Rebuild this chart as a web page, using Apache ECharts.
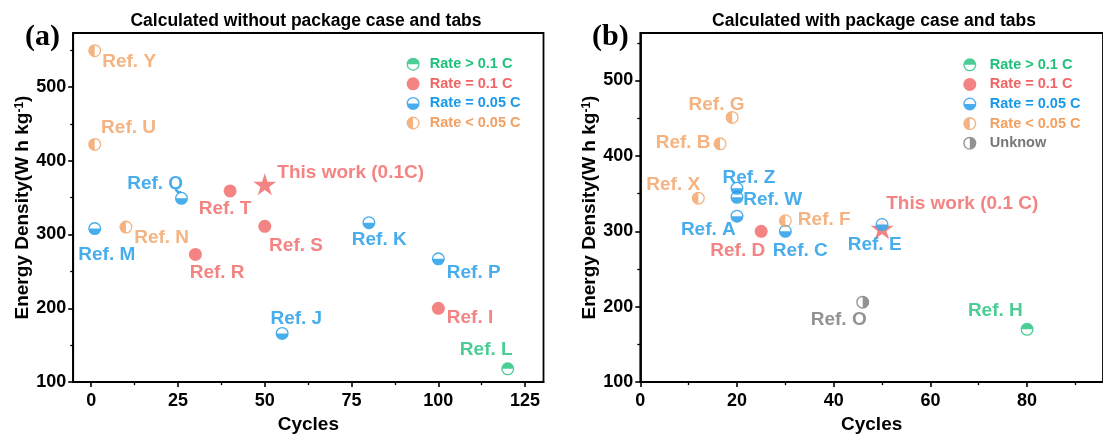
<!DOCTYPE html>
<html><head><meta charset="utf-8">
<script src="https://cdn.jsdelivr.net/npm/echarts@6/dist/echarts.min.js"></script>
<style>html,body{margin:0;padding:0;background:#fff}#c{width:1103px;height:439px}</style>
</head><body><div id="c"></div>
<script>
// ---------------- DATA ----------------
const rateNames = {gt: 'Rate > 0.1 C', eq: 'Rate = 0.1 C', half: 'Rate = 0.05 C', lt: 'Rate < 0.05 C', unk: 'Unknow'};

// Panel (a): calculated without package case and tabs
const aNames   = ['Ref. Y','Ref. U','Ref. Q','Ref. T','Ref. M','Ref. N','Ref. R','Ref. S','Ref. K','Ref. P','Ref. I','Ref. J','Ref. L'];
const aCycles  = [1, 1, 26, 40, 1, 10, 30, 50, 80, 100, 100, 55, 120];
const aDensity = [549, 422, 349, 359, 308, 310, 273, 311, 316, 267, 200, 166, 118];
const aRate    = ['lt','lt','half','eq','half','lt','eq','eq','half','half','eq','half','gt'];
const aThisWork = [50, 368];
const aThisWorkLabel = 'This work (0.1C)';

// Panel (b): calculated with package case and tabs
const bNames   = ['Ref. G','Ref. B','Ref. X','Ref. Z','Ref. W','Ref. A','Ref. D','Ref. F','Ref. C','Ref. E','Ref. O','Ref. H'];
const bCycles  = [19, 16.5, 12, 20, 20, 20, 25, 30, 30, 50, 46, 80];
const bDensity = [451, 416, 344, 357, 345, 320, 300, 314, 300, 309, 206, 170];
const bRate    = ['lt','lt','lt','half','half','half','eq','lt','half','half','unk','gt'];
const bThisWork = [50, 304];
const bThisWorkLabel = 'This work (0.1 C)';

// Axis ticks
const yMajorTicks  = [100, 200, 300, 400, 500];
const yMinorTicks  = [150, 250, 350, 450, 550];
const aXMajorTicks = [0, 25, 50, 75, 100, 125];
const aXMinorTicks = [12.5, 37.5, 62.5, 87.5, 112.5];
const bXMajorTicks = [0, 20, 40, 60, 80];
const bXMinorTicks = [10, 30, 50, 70, 90];

const titles = ['Calculated without package case and tabs', 'Calculated with package case and tabs'];
const panelTags = ['(a)', '(b)'];

// ---------------- STYLE ----------------
const FONT = '"Liberation Sans", Arial, sans-serif';
const COLORS = {gt: '#1fc07a', eq: '#f16464', half: '#1a98e8', lt: '#f1a062', unk: '#777777'};
const SYM = {
  gt:   'path://M0,10 A10,10 0 0 1 20,10 Z M0,10 A10,10 0 0 0 20,10 L18,10 A8,8 0 0 1 2,10 Z',
  half: 'path://M0,10 A10,10 0 0 0 20,10 Z M0,10 A10,10 0 0 1 20,10 L18,10 A8,8 0 0 0 2,10 Z',
  lt:   'path://M10,0 A10,10 0 0 0 10,20 Z M10,0 A10,10 0 0 1 10,20 L10,18 A8,8 0 0 0 10,2 Z',
  unk:  'path://M10,0 A10,10 0 0 1 10,20 Z M10,0 A10,10 0 0 0 10,20 L10,18 A8,8 0 0 1 10,2 Z',
  eq:   'circle'
};
const STAR = 'path://M10,0 L12.245,6.910 L19.511,6.910 L13.633,11.180 L15.878,18.090 L10,13.820 L4.122,18.090 L6.367,11.180 L0.489,6.910 L7.755,6.910 Z';

// label offsets: [text left relative to marker centre, text middle relative to marker centre]
const labelOffsets = [
  {'Ref. Y':[7.5,11],'Ref. U':[6.4,-17],'Ref. Q':[-54.3,-15],'Ref. T':[-31.4,18],'Ref. M':[-16.4,26],'Ref. N':[8.2,11],
   'Ref. R':[-5.7,18],'Ref. S':[4.3,19],'Ref. K':[-17.1,17],'Ref. P':[8.5,14],'Ref. I':[8.5,9],'Ref. J':[-11.7,-15],'Ref. L':[-47.9,-19],
   work:[12.5,-12]},
  {'Ref. G':[-43.6,-13],'Ref. B':[-64.4,-1],'Ref. X':[-52,-13],'Ref. Z':[-14.5,-11],'Ref. W':[6.2,2],'Ref. A':[-56.1,14],
   'Ref. D':[-50.9,19],'Ref. F':[12.5,-1],'Ref. C':[-12.5,19],'Ref. E':[-34.3,20],'Ref. O':[-52,18],'Ref. H':[-59.2,-19],
   work:[4.2,-25]}
];

const grids = [
  {left: 73.2, top: 33, width: 470.3, height: 356, xmin: -5.2, xmax: 130.3, ymin: 100, ymax: 573},
  {left: 640.3, top: 33, width: 499.7, height: 356, xmin: 0, xmax: 95.7, ymin: 100, ymax: 563}
];

function labelStyle(color, off) {
  return {show: true, position: 'inside', align: 'left', verticalAlign: 'middle', offset: off,
          color: color, fontSize: 19, fontWeight: 'bold', fontFamily: FONT};
}

const series = [];
function buildPanel(p, names, cycles, dens, rates, work, workLabel) {
  const off = labelOffsets[p];
  series.push({
    type: 'scatter', name: 'This work', xAxisIndex: 2*p, yAxisIndex: 2*p, symbol: STAR, symbolSize: [23, 22],
    itemStyle: {color: COLORS.eq}, silent: true,
    data: [{value: work, name: workLabel, label: labelStyle(COLORS.eq, off.work)}],
    label: {formatter: '{b}'}
  });
  series.push({
    type: 'scatter', name: 'bg' + p, xAxisIndex: 2*p, yAxisIndex: 2*p, symbol: 'circle', symbolSize: 12,
    itemStyle: {color: '#fff'}, silent: true,
    data: names.map((n, i) => rates[i] !== 'eq' ? [cycles[i], dens[i]] : null).filter(d => d)
  });
  ['gt','eq','half','lt','unk'].forEach(k => {
    const idx = names.map((n, i) => i).filter(i => rates[i] === k);
    if (!idx.length) return;
    series.push({
      type: 'scatter', name: rateNames[k], xAxisIndex: 2*p, yAxisIndex: 2*p,
      symbol: SYM[k], symbolSize: 13, itemStyle: {color: COLORS[k]},
      label: {formatter: '{b}'},
      data: idx.map(i => ({value: [cycles[i], dens[i]], name: names[i], label: labelStyle(COLORS[k], off[names[i]])}))
    });
  });
}
buildPanel(0, aNames, aCycles, aDensity, aRate, aThisWork, aThisWorkLabel);
buildPanel(1, bNames, bCycles, bDensity, bRate, bThisWork, bThisWorkLabel);

const tickLabel = {fontSize: 18, fontWeight: 'bold', color: '#000', fontFamily: FONT};
const xAxes = [], yAxes = [];
grids.forEach((g, p) => {
  const xMaj = p === 0 ? aXMajorTicks : bXMajorTicks;
  const xMin = p === 0 ? aXMinorTicks : bXMinorTicks;
  xAxes.push({
    type: 'value', gridIndex: p, position: 'bottom', min: g.xmin, max: g.xmax,
    name: 'Cycles', nameLocation: 'middle', nameGap: 24,
    nameTextStyle: {fontSize: 19, fontWeight: 'bold', color: '#000', fontFamily: FONT},
    axisLine: {show: true, onZero: false, lineStyle: {color: '#000', width: 1.8}},
    axisTick: {show: true, length: 5, customValues: xMaj, lineStyle: {color: '#000', width: 1.6}},
    axisLabel: Object.assign({customValues: xMaj, margin: 10}, tickLabel),
    splitLine: {show: false}
  });
  xAxes.push({
    type: 'value', gridIndex: p, position: 'bottom', min: g.xmin, max: g.xmax,
    axisLine: {show: false, onZero: false}, axisLabel: {show: false}, splitLine: {show: false},
    axisTick: {show: true, length: 3, customValues: xMin, lineStyle: {color: '#000', width: 1.3}}
  });
  yAxes.push({
    type: 'value', gridIndex: p, position: 'left', min: g.ymin, max: g.ymax,
    name: 'Energy Density(W h kg{sup|-1})', nameLocation: 'middle', nameGap: 36,
    nameTextStyle: {fontSize: 19, fontWeight: 'bold', color: '#000', fontFamily: FONT,
      rich: {sup: {fontSize: 12, fontWeight: 'bold', color: '#000', fontFamily: FONT, verticalAlign: 'top'}}},
    axisLine: {show: true, onZero: false, lineStyle: {color: '#000', width: 1.8}},
    axisTick: {show: true, length: 5, customValues: yMajorTicks, lineStyle: {color: '#000', width: 1.6}},
    axisLabel: Object.assign({customValues: yMajorTicks, margin: 7}, tickLabel),
    splitLine: {show: false}
  });
  yAxes.push({
    type: 'value', gridIndex: p, position: 'left', min: g.ymin, max: g.ymax,
    axisLine: {show: false, onZero: false}, axisLabel: {show: false}, splitLine: {show: false},
    axisTick: {show: true, length: 3, customValues: yMinorTicks, lineStyle: {color: '#000', width: 1.3}}
  });
});

function legendFor(keys, left, top, iw) {
  return {
    orient: 'vertical', left: left, top: top, itemWidth: iw, itemHeight: 13, itemGap: 4.6,
    selectedMode: false, symbolKeepAspect: true,
    textStyle: {fontSize: 14.5, fontWeight: 'bold', fontFamily: FONT, lineHeight: 14},
    data: keys.map(k => ({name: rateNames[k], icon: SYM[k], textStyle: {color: COLORS[k]}}))
  };
}

const option = {
  animation: false,
  backgroundColor: '#fff',
  title: [
    {text: titles[0], left: 301, top: 7, textAlign: 'center',
     textStyle: {fontSize: 17.5, fontWeight: 'bold', color: '#000', fontFamily: FONT}},
    {text: titles[1], left: 869, top: 7, textAlign: 'center',
     textStyle: {fontSize: 17.5, fontWeight: 'bold', color: '#000', fontFamily: FONT}}
  ],
  graphic: [
    {type: 'text', left: 25, top: 22, style: {text: panelTags[0], fontSize: 30, fontWeight: 'bold', fill: '#000', fontFamily: '"Liberation Serif", "Times New Roman", serif'}},
    {type: 'text', left: 592, top: 22, style: {text: panelTags[1], fontSize: 30, fontWeight: 'bold', fill: '#000', fontFamily: '"Liberation Serif", "Times New Roman", serif'}}
  ],
  legend: [
    legendFor(['gt','eq','half','lt'], 401.6, 51.7, 23.4),
    legendFor(['gt','eq','half','lt','unk'], 958.3, 52.3, 30)
  ],
  grid: grids.map(g => ({left: g.left, top: g.top, width: g.width, height: g.height,
    show: true, borderColor: '#000', borderWidth: 1.8, backgroundColor: 'transparent', containLabel: false})),
  xAxis: xAxes,
  yAxis: yAxes,
  series: series
};
const chart = echarts.init(document.getElementById('c'), null, {renderer: 'canvas'});
chart.setOption(option);
</script>
</body></html>
